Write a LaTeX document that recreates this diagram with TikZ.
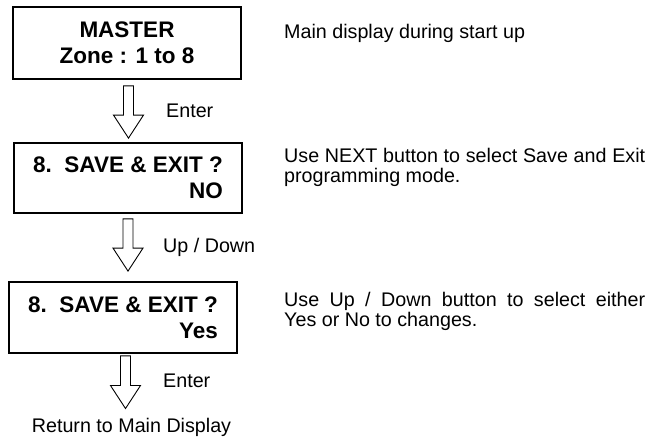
\documentclass[tikz,border=0pt]{standalone}
\usepackage{fontspec}
\setmainfont{Liberation Sans}
\usetikzlibrary{positioning, calc}

% hollow down arrow between two points
\newcommand{\fatarrow}[2]{%
  \draw[fatline] let \p1=(#1), \p2=(#2) in
    (\x1-5pt,\y1) -- (\x1-5pt,\y2+23pt) -- (\x1-15pt,\y2+23pt) -- (\x1,\y2)
    -- (\x1+15pt,\y2+23pt) -- (\x1+5pt,\y2+23pt) -- (\x1+5pt,\y1) -- cycle;}

\begin{document}
\begin{tikzpicture}[x=1pt, y=-1pt,
    box/.style={draw, line width=1.8pt, minimum width=228pt, inner sep=0pt,
        font=\fontsize{22.5}{26}\selectfont\bfseries},
    lbl/.style={inner sep=0pt, font=\fontsize{19.7}{22}\selectfont},
    desc/.style={inner sep=0pt, text width=361pt, align=justify,
        font=\fontsize{19.7}{19.5}\selectfont},
    fatline/.style={line width=0.9pt, fill=white}]
    \useasboundingbox (0,0) rectangle (654,438);

    % Display boxes
    \node[box, minimum height=72pt, align=center] (box1) at (127,43) {MASTER\\Zone : 1 to 8};
    \node[box, minimum height=70pt, align=right] (box2) at (128,178) {8.\ \ SAVE \& EXIT ?\\NO};
    \node[box, minimum height=71pt, align=right] (box3) at (123,317.5) {8.\ \ SAVE \& EXIT ?\\Yes};
    \node[lbl, anchor=base] (ret) at (131.5,433) {Return to Main Display};

    % Arrows
    \fatarrow{$(box1.south)+(1.5,6)$}{$(box2.north)+(0,-4)$}
    \fatarrow{$(box2.south)+(0,5)$}{$(box3.north)+(0,-10)$}
    \fatarrow{$(box3.south)+(2.5,2)$}{$(ret.north)+(0,-10)$}

    % Key labels
    \node[lbl, anchor=base west] (enter1) at (166,118) {Enter};
    \node[lbl, anchor=base west] (updown) at (163,253) {Up / Down};
    \node[lbl, anchor=base west] (enter2) at (163,388) {Enter};

    % Descriptions
    \node[lbl, anchor=base west] (desc1) at (284,39) {Main display during start up};
    \node[desc, anchor=base west] (desc2) at (284,163) {Use NEXT button to select Save and Exit\linebreak programming mode.};
    \node[desc, anchor=base west] (desc3) at (284,307) {Use Up / Down button to select either\linebreak Yes or No to changes.};
\end{tikzpicture}
\end{document}
